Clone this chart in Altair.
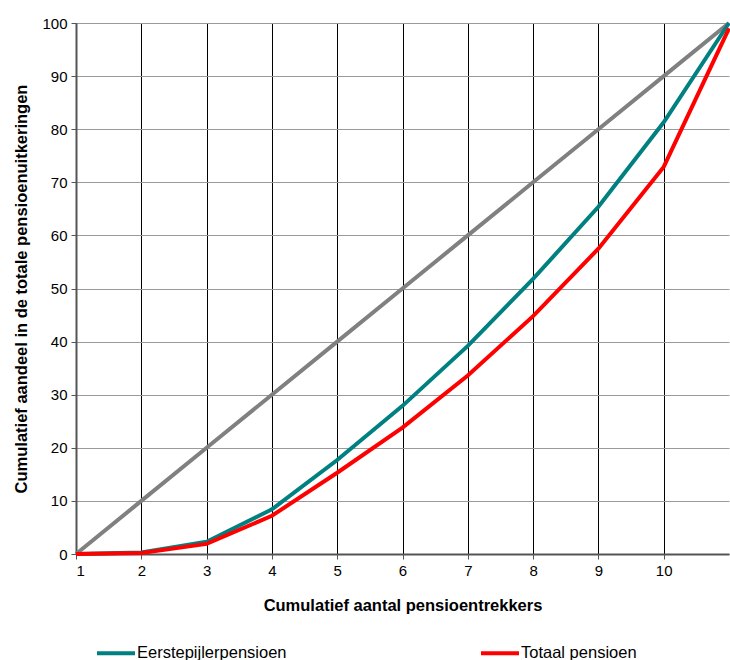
import altair as alt
import pandas as pd

x_vals = [1, 2, 3, 4, 5, 6, 7, 8, 9, 10, 11]
diagonal = [0, 10, 20, 30, 40, 50, 60, 70, 80, 90, 100]
eerste = [0, 0.3, 2.3, 8.4, 17.7, 27.9, 39.2, 51.8, 65.4, 81.3, 100]
totaal = [0, 0.2, 1.9, 7.2, 15.3, 23.8, 33.6, 44.8, 57.5, 72.9, 99]
series_names = ["Eerstepijlerpensioen", "Totaal pensioen"]
series_colors = ["#008080", "#FF0000"]

rows = []
for name, vals in zip(series_names, [eerste, totaal]):
    for xv, yv in zip(x_vals, vals):
        rows.append({"x": xv, "y": yv, "serie": name})
df = pd.DataFrame(rows)
df_diag = pd.DataFrame({"x": x_vals, "y": diagonal})

FONT = "Liberation Sans"

x_enc = alt.X(
    "x:Q",
    scale=alt.Scale(domain=[1, 11], nice=False, zero=False),
    axis=alt.Axis(
        values=list(range(1, 11)),
        format="d",
        title="Cumulatief aantal pensioentrekkers",
        gridColor="#000000",
        gridWidth=1,
        titlePadding=19,
    ),
)
y_enc = alt.Y(
    "y:Q",
    scale=alt.Scale(domain=[0, 100], nice=False),
    axis=alt.Axis(
        values=list(range(0, 101, 10)),
        format="d",
        title="Cumulatief aandeel in de totale pensioenuitkeringen",
        gridColor="#9a9a9a",
        gridWidth=1,
        titlePadding=12,
    ),
)

diag = alt.Chart(df_diag).mark_line(color="#808080", strokeWidth=4).encode(
    x=x_enc, y=y_enc
)

lines = alt.Chart(df).mark_line(strokeWidth=4).encode(
    x="x:Q",
    y="y:Q",
    color=alt.Color(
        "serie:N",
        scale=alt.Scale(domain=series_names, range=series_colors),
        legend=alt.Legend(
            title=None,
            orient="none",
            legendX=19,
            legendY=609,
            direction="horizontal",
            symbolType="stroke",
            symbolSize=1444,
            symbolStrokeWidth=4,
            labelFontSize=16.5,
            labelFont=FONT,
            labelColor="#000000",
            labelOffset=0,
            columnPadding=186,
        ),
    ),
    order=alt.Order("serie:N"),
)

chart = (
    alt.layer(diag, lines)
    .properties(
        width=653,
        height=531,
        autosize=alt.AutoSizeParams(type="none"),
        padding={"left": 76, "top": 23, "right": 1, "bottom": 106},
    )
    .configure_view(stroke=None)
    .configure_axis(
        labelFont=FONT,
        labelFontSize=15,
        labelColor="#000000",
        titleFont=FONT,
        titleFontSize=16.5,
        titleFontWeight="bold",
        titleColor="#000000",
        domainColor="#555555",
        domainWidth=2,
        tickColor="#555555",
        tickSize=5,
        labelPadding=4,
    )
)

chart.save("out.html", embed_options={"renderer": "svg", "actions": False})
